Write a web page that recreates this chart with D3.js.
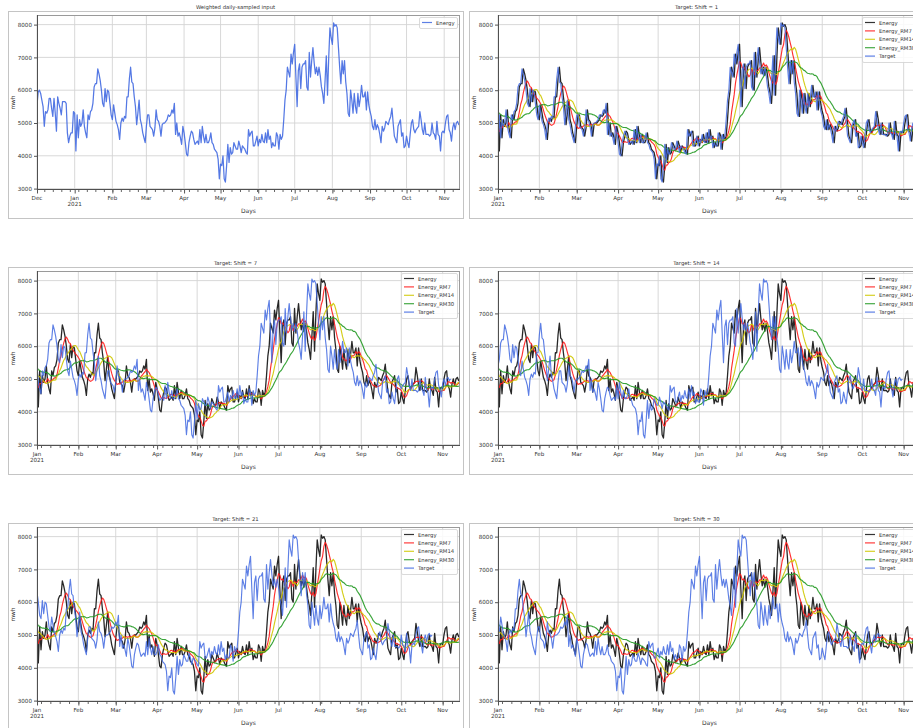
<!DOCTYPE html>
<html><head><meta charset="utf-8">
<script src="https://cdn.jsdelivr.net/npm/d3@7"></script>
<style>
body{margin:0;background:#fff;overflow:hidden}
svg{display:block}
text{font-family:"DejaVu Sans",sans-serif}
</style>
</head><body>
<svg id="chart" width="913" height="728"></svg>
<script>
// ---- data: daily energy (mwh), 2020-12-01 .. 2021-11-14 ----
const energyDec2020 = [5550,5950,6000,5900,5700,5500,4900,5350,5300,5400,5750,5750,5450,5200,5750,5300,4750,5800,5600,5450,5250,5650,5650,5650,5600,4700,4400,4600,4700,4700,5350];
const energyJan2021 = [5300,4150,5250,4550,5100,4900,5000,5400,4900,4700,4550,5250,5100,5350,5400,5600,6100,6200,6200,6650,6500,6300,6000,5600,5500,6050,5650,6000,5950,5600,5250];
const energyFeb2021 = [5100,5550,5300,5050,4950,4800,4500,5000,5150,5050,5200,5150,5800,5800,6350,6700,6250,6200,5800,5500,4950,5300,5700,5100,4950,4700,4550,4400];
const energyMar2021 = [4900,5250,5250,4900,4850,4800,4600,4850,5400,5100,5050,4900,4600,4950,5000,5000,5050,5100,5250,5200,5250,5400,5300,5600,4650,5000,4600,4700,4550,4350,4900];
const energyApr2021 = [4700,4400,4050,4000,4400,4600,4750,4700,4500,4350,4400,4450,4350,4800,4400,4900,4600,4400,4650,4400,4400,4500,4700,4400,4350,4200,4150,4100,3900,3300];
const energyMay2021 = [3750,3700,4000,3300,3200,3700,4350,3800,4250,4050,4100,4400,4300,4200,4200,4450,4300,4100,4300,4250,4200,4100,4050,4800,4600,4700,4750,4300,4300,4450,4600];
const energyJun2021 = [4300,4500,4400,4650,4450,4400,4700,4400,4800,4500,4600,4250,4400,4300,4300,4700,4600,4200,4650,4500,4600,5100,5700,6000,6700,6550,6400,7100,6800,7150];
const energyJul2021 = [7400,6400,5500,6600,6800,6050,6700,6800,6800,6900,6100,6000,7150,6400,6900,7300,6850,6500,6700,6450,6700,6450,6100,5900,5600,6300,7050,5850,7000,7900,7600];
const energyAug2021 = [7400,8050,7950,8000,7900,7300,6700,6200,6900,6500,6900,6250,5900,5300,5200,6000,5700,5300,5900,5500,5300,5900,5500,5750,6150,5800,5800,5950,5400,5950,5550];
const energySep2021 = [5350,5200,4900,4800,5100,4800,4950,4850,4650,4400,4900,4750,4850,5050,5000,4950,5100,5200,5450,5000,4600,4500,4400,4900,5000,5100,4600,4700,4250,4300];
const energyOct2021 = [4600,4400,4250,4650,5000,5100,4800,4700,4800,4850,4900,5350,5100,4800,4650,5000,4650,4650,4650,4600,4650,5000,4700,4650,4500,5050,4650,4600,4150,4700,4750];
const energyNov2021 = [4700,5000,5200,5250,4800,4700,4450,4850,5000,4800,5000,5050,4950,5000];

const shifts = [1, 7, 14, 21, 30];
const rollingWindows = [7, 14, 30];
const seriesNames = ["Energy", "Energy_RM7", "Energy_RM14", "Energy_RM30", "Target"];
const inputTitle = "Weighted daily-sampled input";
const yTickValues = [3000, 4000, 5000, 6000, 7000, 8000];
const yLabel = "mwh";
const xLabel = "Days";

// ---- derived series ----
const energy = [].concat(energyDec2020, energyJan2021, energyFeb2021, energyMar2021, energyApr2021,
  energyMay2021, energyJun2021, energyJul2021, energyAug2021, energySep2021, energyOct2021, energyNov2021);
const DAY = 864e5;
const t0 = Date.UTC(2020, 11, 1);
const dates = energy.map((_, i) => new Date(t0 + i * DAY));
const n = energy.length;
const jan1 = new Date(Date.UTC(2021, 0, 1));
const firstIdx = dates.findIndex(d => +d >= +jan1);

function rolling(w) {
  return energy.map((_, i) => i < w - 1 ? null : d3.mean(energy.slice(i - w + 1, i + 1)));
}
const rollMeans = rollingWindows.map(rolling);

// ---- layout ----
const svg = d3.select("#chart");
const cols = [
  {frameL: 8, frameR: 463, axL: 37, axR: 460},
  {frameL: 469, frameR: 924, axL: 498, axR: 921}
];
const ROW = 256;
const colors = {Energy: "#111111", Energy_RM7: "#ff1a1a", Energy_RM14: "#cfc800", Energy_RM30: "#249a24", Target: "#4169e1"};
const FS = 5.6;

const [ymin, ymax] = d3.extent(energy);
const pad = (ymax - ymin) * 0.05;

const panels = [{title: inputTitle, row: 0, col: 0, shift: null}]
  .concat(shifts.map((s, k) => ({title: `Target: Shift = ${s}`, row: Math.floor((k + 1) / 2), col: (k + 1) % 2, shift: s})));

panels.forEach((p, pi) => {
  const c = cols[p.col];
  const off = p.row * ROW;
  const axT = 15 + off, axB = 190 + off;
  const g = svg.append("g");

  // frame box
  g.append("rect").attr("x", c.frameL + 0.5).attr("y", 11 + off + 0.5)
    .attr("width", c.frameR - c.frameL).attr("height", 207)
    .attr("fill", "none").attr("stroke", "#c4c4c4").attr("stroke-width", 1);
  // title
  g.append("text").attr("x", (c.frameL + c.frameR) / 2).attr("y", 9 + off)
    .attr("text-anchor", "middle").attr("font-size", 5.3).attr("fill", "#333").text(p.title);

  const startDate = p.shift === null ? dates[0] : jan1;
  const x = d3.scaleUtc().domain([startDate, dates[n - 1]]).range([c.axL, c.axR]);
  const y = d3.scaleLinear().domain([ymin - pad, ymax + pad]).range([axB, axT]);

  const clipId = "clip" + pi;
  svg.append("clipPath").attr("id", clipId).append("rect")
    .attr("x", c.axL).attr("y", axT).attr("width", c.axR - c.axL).attr("height", axB - axT);

  const months = d3.utcMonth.range(d3.utcMonth.ceil(startDate), new Date(+dates[n - 1] + 1));
  const mondays = d3.utcMonday.range(startDate, new Date(+dates[n - 1] + 1));

  // grid
  const grid = g.append("g").attr("stroke", "#d4d4d4").attr("stroke-width", 0.9);
  months.forEach(m => grid.append("line").attr("x1", x(m)).attr("x2", x(m)).attr("y1", axT).attr("y2", axB));
  yTickValues.forEach(v => grid.append("line").attr("x1", c.axL).attr("x2", c.axR).attr("y1", y(v)).attr("y2", y(v)));

  // lines
  const line = d3.line().defined(d => d.v !== null).x(d => x(d.d)).y(d => y(d.v));
  const lg = g.append("g").attr("clip-path", `url(#${clipId})`).attr("fill", "none")
    .attr("stroke-linejoin", "round");
  let legendItems;
  if (p.shift === null) {
    const pts = energy.map((v, i) => ({d: dates[i], v}));
    lg.append("path").datum(pts).attr("d", line).attr("stroke", colors.Target)
      .attr("stroke-width", 1.25).attr("stroke-opacity", 0.9);
    legendItems = [{name: "Energy", color: colors.Target}];
  } else {
    const idx = d3.range(firstIdx, n);
    const series = [
      {name: seriesNames[0], pts: idx.map(i => ({d: dates[i], v: energy[i]}))},
      ...rollingWindows.map((w, k) => ({name: seriesNames[k + 1], pts: idx.map(i => ({d: dates[i], v: rollMeans[k][i]}))})),
      {name: seriesNames[4], pts: idx.filter(i => i + p.shift < n).map(i => ({d: dates[i], v: energy[i + p.shift]}))}
    ];
    series.forEach(s => {
      lg.append("path").datum(s.pts).attr("d", line).attr("stroke", colors[s.name])
        .attr("stroke-width", s.name === "Energy" ? 1.3 : 1.15).attr("stroke-opacity", s.name === "Target" ? 0.85 : 0.9);
    });
    legendItems = series.map(s => ({name: s.name, color: colors[s.name]}));
  }

  // spines
  g.append("line").attr("x1", c.axL).attr("x2", c.axR).attr("y1", axT + 0.5).attr("y2", axT + 0.5).attr("stroke", "#9a9a9a");
  g.append("line").attr("x1", c.axR - 0.5).attr("x2", c.axR - 0.5).attr("y1", axT).attr("y2", axB).attr("stroke", "#9a9a9a");
  g.append("line").attr("x1", c.axL).attr("x2", c.axR).attr("y1", axB - 0.5).attr("y2", axB - 0.5).attr("stroke", "#505050");
  g.append("line").attr("x1", c.axL + 0.5).attr("x2", c.axL + 0.5).attr("y1", axT).attr("y2", axB).attr("stroke", "#505050");

  // y axis
  const ya = g.append("g").attr("transform", `translate(${c.axL},0)`)
    .call(d3.axisLeft(y).tickValues(yTickValues).tickSize(3).tickPadding(2).tickFormat(d3.format("d")));
  ya.select(".domain").remove();
  ya.selectAll("line").attr("stroke", "#555");
  ya.selectAll("text").attr("font-size", FS).attr("fill", "#333").attr("font-family", "DejaVu Sans");

  // x axis: major month ticks, minor weekly ticks
  const xa = g.append("g").attr("transform", `translate(0,${axB})`)
    .call(d3.axisBottom(x).tickValues(months).tickSize(3.5).tickFormat(""));
  xa.select(".domain").remove();
  xa.selectAll("line").attr("stroke", "#555");
  const xm = g.append("g").attr("transform", `translate(0,${axB})`)
    .call(d3.axisBottom(x).tickValues(mondays).tickSize(2).tickFormat(""));
  xm.select(".domain").remove();
  xm.selectAll("line").attr("stroke", "#666");

  months.forEach(m => {
    const t = g.append("text").attr("x", x(m)).attr("y", axB + 9.5).attr("text-anchor", "middle")
      .attr("font-size", FS).attr("fill", "#333");
    t.append("tspan").attr("x", x(m)).text(d3.utcFormat("%b")(m));
    if (m.getUTCMonth() === 0) t.append("tspan").attr("x", x(m)).attr("dy", 6.3).text(d3.utcFormat("%Y")(m));
  });
  if (+months[0] !== +startDate) {
    g.append("text").attr("x", x(startDate)).attr("y", axB + 9.5).attr("text-anchor", "middle")
      .attr("font-size", FS).attr("fill", "#333").text(d3.utcFormat("%b")(startDate));
  }

  g.append("text").attr("x", (c.axL + c.axR) / 2).attr("y", axB + 23).attr("text-anchor", "middle")
    .attr("font-size", 6).attr("fill", "#333").text(xLabel);
  g.append("text").attr("transform", `translate(${c.axL - 22},${(axT + axB) / 2}) rotate(-90)`)
    .attr("text-anchor", "middle").attr("font-size", 5.8).attr("fill", "#333").text(yLabel);

  // legend
  const lw = legendItems.length === 1 ? 38 : 56;
  const lh = legendItems.length === 1 ? 11 : 45;
  const lx = c.axR - 3 - lw, ly = axT + 2;
  const leg = g.append("g");
  leg.append("rect").attr("x", lx + 0.5).attr("y", ly + 0.5).attr("width", lw).attr("height", lh)
    .attr("rx", 1.5).attr("fill", "#fff").attr("fill-opacity", 0.85).attr("stroke", "#d0d0d0").attr("stroke-width", 0.8);
  legendItems.forEach((it, k) => {
    const yy = ly + 5.5 + k * 8.4;
    leg.append("line").attr("x1", lx + 3).attr("x2", lx + 13).attr("y1", yy).attr("y2", yy)
      .attr("stroke", it.color).attr("stroke-width", 1.2).attr("stroke-opacity", 0.85);
    leg.append("text").attr("x", lx + 17).attr("y", yy + 2).attr("font-size", 5.3).attr("fill", "#333").text(it.name);
  });
});
</script>
</body></html>
